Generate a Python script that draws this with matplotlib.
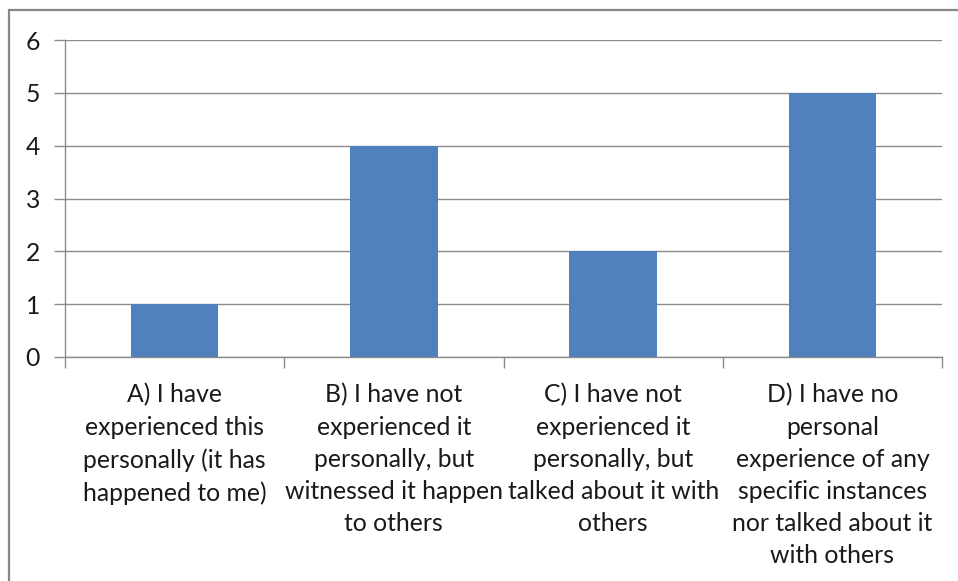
import matplotlib
matplotlib.use("Agg")
import matplotlib.pyplot as plt
from matplotlib.patches import Rectangle

categories = [
    "A) I have\nexperienced this\npersonally (it has\nhappened to me)",
    "B) I have not\nexperienced it\npersonally, but\nwitnessed it happen\nto others",
    "C) I have not\nexperienced it\npersonally, but\ntalked about it with\nothers",
    "D) I have no\npersonal\nexperience of any\nspecific instances\nnor talked about it\nwith others",
]
counts = [1, 4, 2, 5]
yticks = [0, 1, 2, 3, 4, 5, 6]

W, H = 958, 581
plt.rcParams["font.family"] = ["Lato", "DejaVu Sans"]

fig = plt.figure(figsize=(W / 100, H / 100), dpi=100)
ax = fig.add_axes([65 / W, 1 - 357 / H, (942 - 65) / W, (357 - 40) / H])

# outer chart frame (only top and left edges fall inside the canvas)
fig.patches.append(Rectangle((9 / W, -0.1), 1.2, 1 - 10 / H + 0.1,
                             transform=fig.transFigure, fill=False,
                             ec="#878787", lw=1.6))

x = range(len(counts))
ax.bar(x, counts, width=0.4, color="#4F81BD", zorder=2)

ax.set_xlim(-0.5, len(counts) - 0.5)
ax.set_ylim(0, 6)
ax.set_yticks(yticks)
ax.yaxis.grid(True, color="#8c8c8c", lw=1.0)
ax.set_axisbelow(True)

ax.set_xticks([i - 0.5 for i in range(len(counts) + 1)], minor=False)
ax.set_xticklabels([])
ax.set_xticks(list(x), minor=True)
ax.set_xticklabels(categories, minor=True, fontsize=17.8, linespacing=1.48,
                   va="top", ha="center", color="#1a1a1a")
ax.tick_params(axis="x", which="minor", length=0, pad=19)
ax.tick_params(axis="x", which="major", length=8, color="#8c8c8c", width=1)
ax.tick_params(axis="y", length=8, color="#8c8c8c", width=1, pad=10,
               labelsize=17.8, labelcolor="#1a1a1a")

for side in ("top", "right"):
    ax.spines[side].set_visible(False)
for side in ("left", "bottom"):
    ax.spines[side].set_color("#8c8c8c")
    ax.spines[side].set_linewidth(1)

fig.savefig("out.png", dpi=100)
